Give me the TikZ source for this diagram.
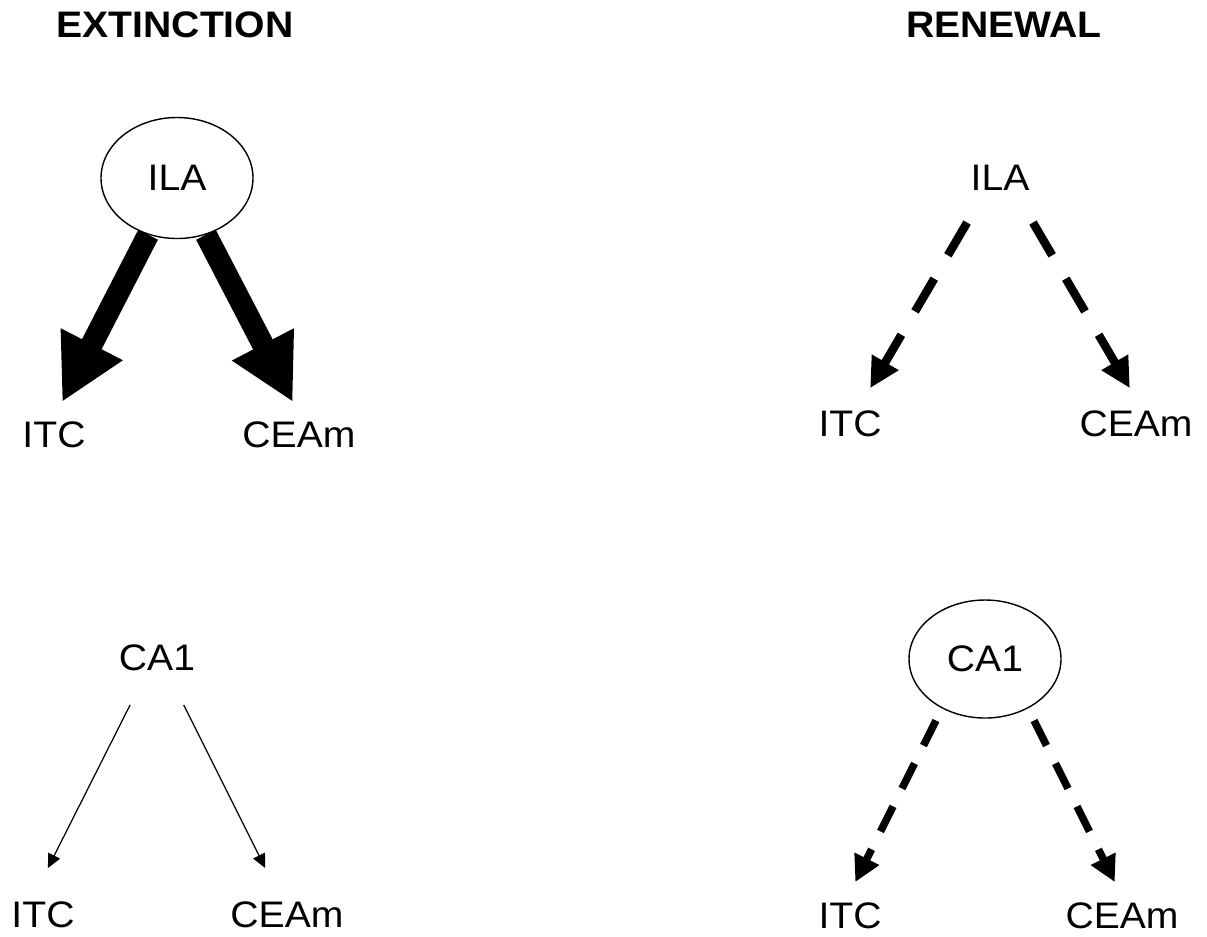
\documentclass[tikz,border=0pt]{standalone}
\usepackage{fontspec}
\setmainfont{Liberation Sans}[FakeStretch=1.06]
\usetikzlibrary{arrows.meta,shapes.geometric}
\pgfdeclarelayer{bg}
\pgfsetlayers{bg,main}

\begin{document}
\begin{tikzpicture}[font=\fontsize{21}{25}\selectfont,
        lbl/.style={inner sep=0pt},
        area/.style={ellipse, draw, line width=0.8pt, inner sep=0pt,
                minimum width=3.04cm, minimum height=2.40cm},
        strong/.style={line width=0.44cm,
                -{Triangle[length=1.30cm, width=1.30cm]}},
        weak/.style={line width=0.17cm, dash pattern=on 0.76cm off 0.54cm,
                -{Triangle[length=0.60cm, width=0.58cm]}},
        weaker/.style={line width=0.15cm, dash pattern=on 0.56cm off 0.40cm,
                -{Triangle[length=0.52cm, width=0.52cm]}},
        faint/.style={line width=0.7pt,
                -{Triangle[length=0.28cm, width=0.26cm]}}]
        \useasboundingbox (0cm, 0cm) rectangle (24.140000cm, -18.720000cm);
        % headings
        \node (t0) [lbl] at (3.500000cm, -0.500000cm) {\bfseries EXTINCTION};
        \node (t1) [lbl] at (20.080000cm, -0.500000cm) {\bfseries RENEWAL};
        % extinction
        \node (ila1) [area, minimum height=2.42cm] at (3.540000cm, -3.560000cm) {ILA};
        \node (itc1) [lbl] at (1.080000cm, -8.700000cm) {ITC};
        \node (ceam1) [lbl] at (5.980000cm, -8.700000cm) {CEAm};
        \node (ca1a) [lbl] at (3.140000cm, -13.160000cm) {CA1};
        \node (itc3) [lbl] at (0.860000cm, -18.300000cm) {ITC};
        \node (ceam3) [lbl] at (5.740000cm, -18.300000cm) {CEAm};
        % renewal
        \node (ila2) [lbl] at (20.000000cm, -3.560000cm) {ILA};
        \node (itc2) [lbl] at (17.000000cm, -8.480000cm) {ITC};
        \node (ceam2) [lbl] at (22.720000cm, -8.480000cm) {CEAm};
        \node (ca1b) [area, minimum height=2.36cm] at (19.700000cm, -13.180000cm) {CA1};
        \node (itc4) [lbl] at (17.000000cm, -18.320000cm) {ITC};
        \node (ceam4) [lbl] at (22.440000cm, -18.320000cm) {CEAm};
        \begin{pgfonlayer}{bg}
                \draw (ila1.243) edge [strong, shorten >=0.44cm] ([xshift=-0.04cm]itc1.north);
                \draw (ila1.297) edge [strong, shorten >=0.44cm] ([xshift=0.08cm]ceam1.north);
                \draw ([xshift=-0.20cm]ca1a.south) edge [faint, shorten <=0.75cm, shorten >=0.75cm] ([xshift=-0.24cm]itc3.north);
                \draw ([xshift=0.20cm]ca1a.south) edge [faint, shorten <=0.75cm, shorten >=0.75cm] ([xshift=-0.10cm]ceam3.north);
                \draw ([xshift=-0.29cm]ila2.south) edge [weak, shorten <=0.73cm, shorten >=0.52cm] ([xshift=0.14cm]itc2.north);
                \draw ([xshift=0.29cm]ila2.south) edge [weak, shorten <=0.73cm, shorten >=0.52cm] ([xshift=0.14cm]ceam2.north);
                \draw (ca1b.229) edge [weaker, shorten <=0.27cm, shorten >=0.46cm] ([xshift=-0.10cm]itc4.north);
                \draw (ca1b.311) edge [weaker, shorten <=0.27cm, shorten >=0.46cm] ([xshift=0.06cm]ceam4.north);
        \end{pgfonlayer}
\end{tikzpicture}
\end{document}
